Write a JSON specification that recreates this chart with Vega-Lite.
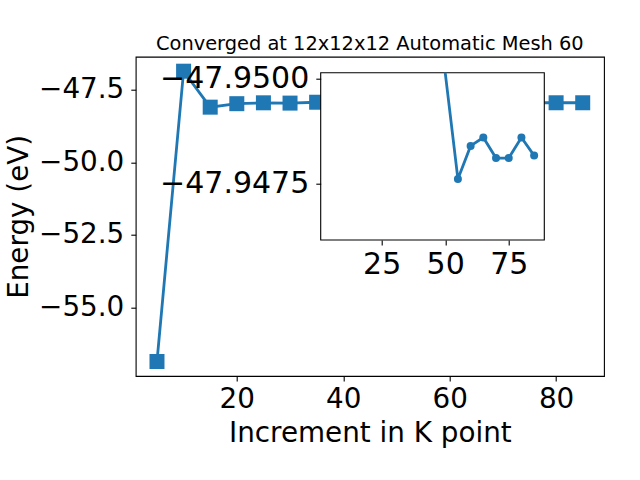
{
  "$schema": "https://vega.github.io/schema/vega-lite/v6.json",
  "autosize": {"type": "none"},
  "padding": {"left": 135.7, "top": 56.7, "right": 36, "bottom": 104},
  "width": 468.3,
  "height": 319.3,
  "title": {"text": "Converged at 12x12x12 Automatic Mesh 60", "font": "DejaVu Sans", "fontSize": 19.4, "fontWeight": "normal", "color": "black", "anchor": "middle", "baseline": "alphabetic", "offset": 9, "dy": 21.5, "frame": "group"},
  "data": {"values": [
    {"k": 5, "E": -56.87},
    {"k": 10, "E": -46.86},
    {"k": 15, "E": -48.10},
    {"k": 20, "E": -47.98},
    {"k": 25, "E": -47.95},
    {"k": 30, "E": -47.96},
    {"k": 35, "E": -47.93},
    {"k": 40, "E": -47.94},
    {"k": 45, "E": -47.95},
    {"k": 50, "E": -47.955},
    {"k": 55, "E": -47.9476},
    {"k": 60, "E": -47.94839},
    {"k": 65, "E": -47.94859},
    {"k": 70, "E": -47.9481},
    {"k": 75, "E": -47.9481},
    {"k": 80, "E": -47.94859},
    {"k": 85, "E": -47.94816}
  ]},
  "layer": [
    {
      "encoding": {
        "x": {"field": "k", "type": "quantitative", "scale": {"domain": [1, 89], "nice": false, "zero": false}, "axis": {"orient": "bottom", "values": [20, 40, 60, 80], "format": "d", "title": "Increment in K point"}},
        "y": {"field": "E", "type": "quantitative", "scale": {"domain": [-57.37, -46.36], "nice": false, "zero": false}, "axis": {"orient": "left", "values": [-55, -52.5, -50, -47.5], "format": ".1f", "title": "Energy (eV)", "labelPadding": 7}}
      },
      "layer": [
        {"mark": {"type": "line", "color": "#1f77b4", "strokeWidth": 2.8, "clip": false}},
        {"mark": {"type": "point", "shape": "square", "filled": true, "size": 225, "color": "#1f77b4", "opacity": 1}}
      ]
    },
    {
      "layer": [
        {
          "data": {"values": [{"box": "inset"}]},
          "mark": {"type": "rect", "fill": "white", "stroke": "black", "strokeWidth": 1.1},
          "encoding": {
            "x": {"datum": 1, "type": "quantitative", "scale": {"domain": [1, 89], "nice": false, "zero": false, "range": [185, 408.6]}, "axis": {"orient": "bottom", "offset": -136, "values": [25, 50, 75], "format": "d", "title": null, "zindex": 1, "labelFontSize": 30}},
            "x2": {"datum": 89},
            "y": {"datum": -47.950133, "type": "quantitative", "scale": {"domain": [-47.950133, -47.94615], "nice": false, "zero": false, "clamp": true, "range": [16, 183.3]}, "axis": {"orient": "left", "offset": -185, "values": [-47.95, -47.9475], "format": ".4f", "title": null, "zindex": 1, "labelFontSize": 30, "labelPadding": 7}},
            "y2": {"datum": -47.94615}
          }
        },
        {
          "transform": [{"filter": "datum.k >= 50"}],
          "mark": {"type": "line", "color": "#1f77b4", "strokeWidth": 2.8},
          "encoding": {
            "x": {"field": "k", "type": "quantitative", "scale": {"domain": [1, 89], "nice": false, "zero": false, "range": [185, 408.6]}, "axis": {"orient": "bottom", "offset": -136, "values": [25, 50, 75], "format": "d", "title": null, "zindex": 1, "labelFontSize": 30}},
            "y": {"field": "E", "type": "quantitative", "scale": {"domain": [-47.950133, -47.94615], "nice": false, "zero": false, "clamp": true, "range": [16, 183.3]}, "axis": {"orient": "left", "offset": -185, "values": [-47.95, -47.9475], "format": ".4f", "title": null, "zindex": 1, "labelFontSize": 30, "labelPadding": 7}}
          }
        },
        {
          "transform": [{"filter": "datum.k >= 55"}],
          "mark": {"type": "point", "shape": "circle", "filled": true, "size": 64, "color": "#1f77b4", "opacity": 1},
          "encoding": {
            "x": {"field": "k", "type": "quantitative", "scale": {"domain": [1, 89], "nice": false, "zero": false, "range": [185, 408.6]}, "axis": {"orient": "bottom", "offset": -136, "values": [25, 50, 75], "format": "d", "title": null, "zindex": 1, "labelFontSize": 30}},
            "y": {"field": "E", "type": "quantitative", "scale": {"domain": [-47.950133, -47.94615], "nice": false, "zero": false, "clamp": true, "range": [16, 183.3]}, "axis": {"orient": "left", "offset": -185, "values": [-47.95, -47.9475], "format": ".4f", "title": null, "zindex": 1, "labelFontSize": 30, "labelPadding": 7}}
          }
        }
      ]
    }
  ],
  "resolve": {"scale": {"x": "independent", "y": "independent"}, "axis": {"x": "independent", "y": "independent"}},
  "config": {
    "view": {"stroke": "black", "strokeWidth": 1.1},
    "axis": {"grid": false, "domain": false, "tickColor": "black", "tickSize": 4.9, "tickWidth": 1.1, "labelColor": "black", "labelFont": "DejaVu Sans", "labelFontSize": 27.8, "labelPadding": 4.9, "labelFlush": false, "labelOverlap": false, "titleFont": "DejaVu Sans", "titleFontSize": 27.8, "titleFontWeight": "normal", "titleColor": "black", "titlePadding": 5.5}
  }
}
